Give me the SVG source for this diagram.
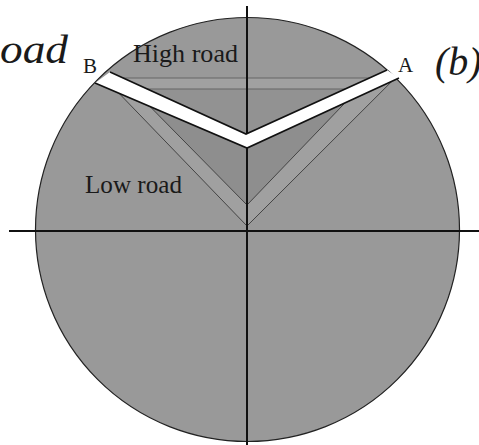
<svg xmlns="http://www.w3.org/2000/svg" width="479" height="445" viewBox="0 0 479 445">
<style>
.lbl{font-family:"Liberation Serif","Times New Roman",serif;fill:#1a1a1a}
.big{font-family:"Liberation Serif","Times New Roman",serif;font-style:italic;fill:#1a1a1a;font-size:40px}
.thin{fill:none;stroke:#444;stroke-width:1}
.hz{fill:none;stroke:#666;stroke-width:1.2}
.edge{fill:none;stroke:#111;stroke-width:1.6;stroke-linejoin:miter}
</style>
<rect width="479" height="445" fill="#fff"/>
<g id="disc">
<circle cx="247.5" cy="229.5" r="212" fill="#999999" stroke="#222" stroke-width="1.2"/>
</g>
<g id="regions">
<polygon points="123,78 370,78 345,89 147,89" fill="#a1a1a1"/>
<polygon points="147,89 345,89 246,134" fill="#929292"/>
<polygon points="119,93.3 247,226 392,81.2 247,148" fill="#a0a0a0"/>
<polygon points="150,106.5 247,205 345,102.9 247,148" fill="#8e8e8e"/>
</g>
<g id="connectors">
<line class="hz" x1="123" y1="78" x2="370" y2="78"/>
<line class="hz" x1="147" y1="89" x2="345" y2="89"/>
<polyline class="thin" points="119,93.3 247,226 392,81.2"/>
<polyline class="thin" points="150,106.5 247,205 345,102.9"/>
<line x1="9" y1="231" x2="479" y2="231" stroke="#111" stroke-width="2"/>
<line x1="247" y1="6" x2="247" y2="445" stroke="#111" stroke-width="2"/>
</g>
<g id="road">
<polygon points="95,83 110,72 246,134 387,70 399,78 247,148" fill="#fff"/>
<polyline class="edge" points="110,72 246,134 387,70"/>
<polyline class="edge" points="95,83 247,148 399,78"/>
</g>
<g id="labels">
<text class="big" x="0" y="63" textLength="68" lengthAdjust="spacingAndGlyphs">oad</text>
<text class="big" x="435" y="75">(b)</text>
<text class="lbl" x="83" y="73" font-size="21">B</text>
<text class="lbl" x="398" y="72" font-size="21">A</text>
<text class="lbl" x="133" y="62" font-size="25" textLength="105" lengthAdjust="spacingAndGlyphs">High road</text>
<text class="lbl" x="85" y="193" font-size="25" textLength="97" lengthAdjust="spacingAndGlyphs">Low road</text>
</g>
</svg>
